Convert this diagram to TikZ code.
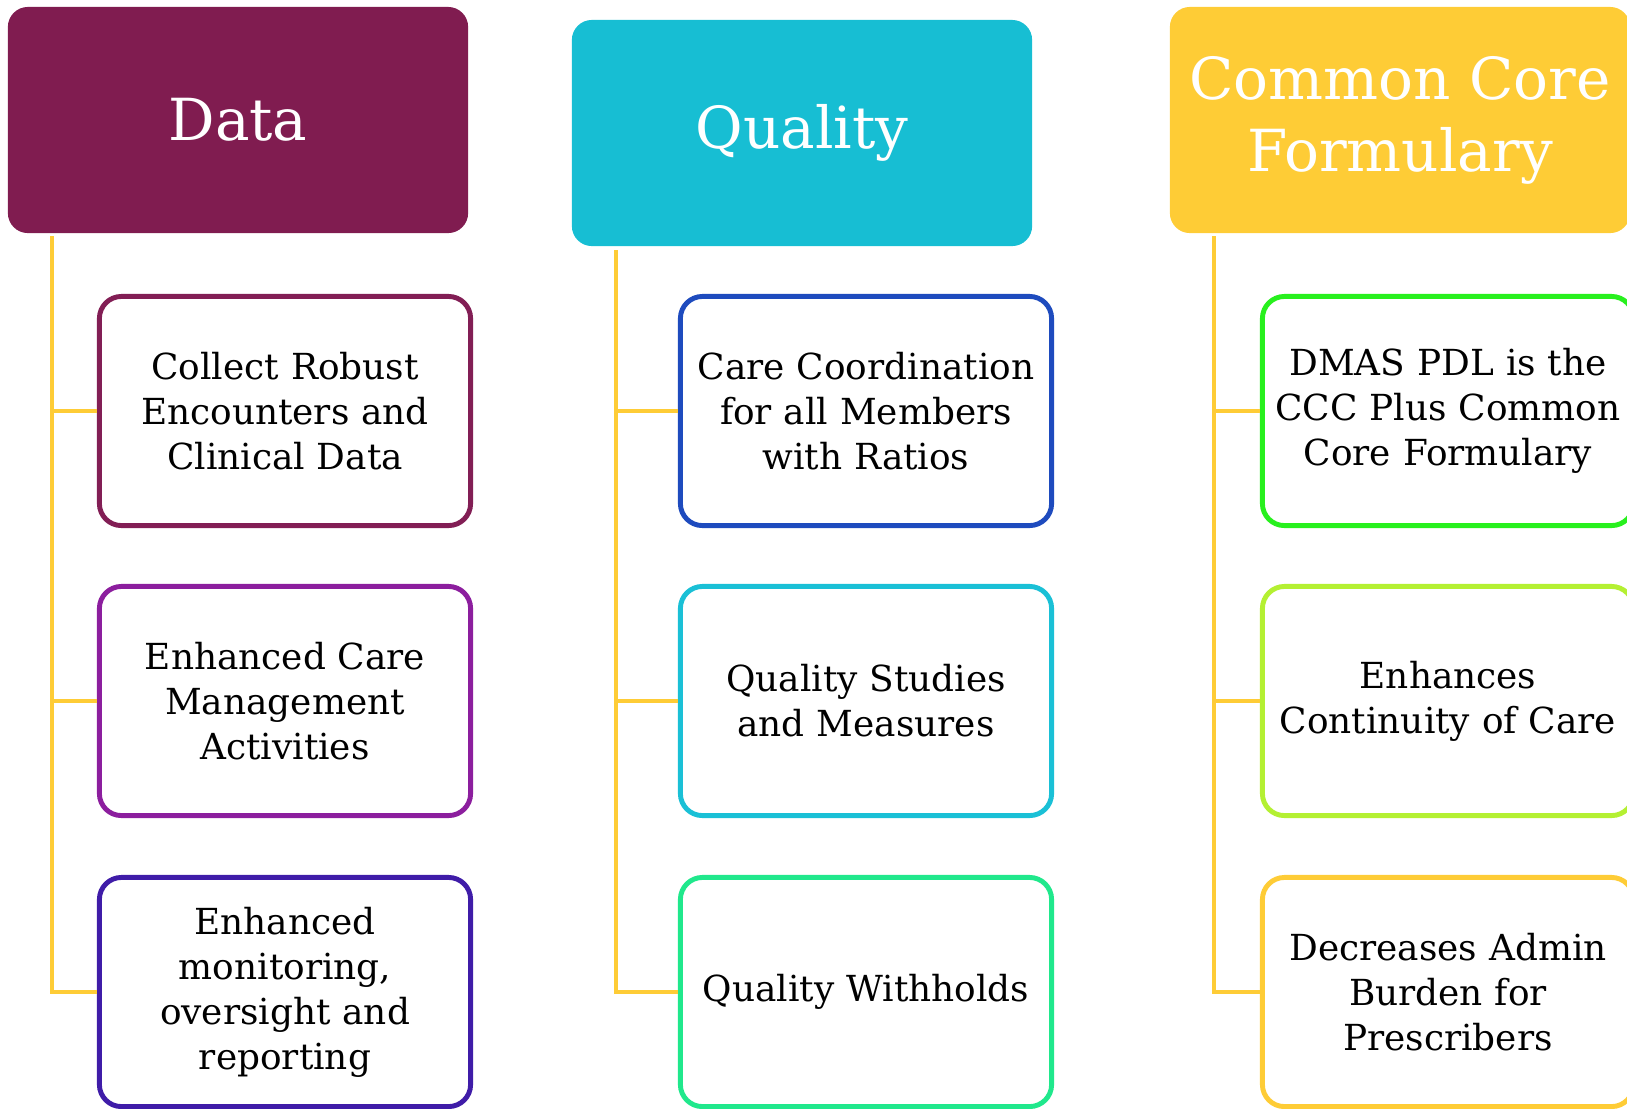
\documentclass[tikz,border=0pt]{standalone}
\usepackage{fontspec}
\setmainfont{DejaVu Serif}
\usepackage{xcolor}
\usepackage{tikz}
\usetikzlibrary{positioning}

\definecolor{datacol}{RGB}{128,28,80}
\definecolor{qualcol}{RGB}{23,190,211}
\definecolor{ccfcol}{RGB}{254,204,54}
\definecolor{dataA}{RGB}{130,30,85}
\definecolor{dataB}{RGB}{140,30,158}
\definecolor{dataC}{RGB}{63,28,168}
\definecolor{qualA}{RGB}{30,75,190}
\definecolor{qualB}{RGB}{26,192,214}
\definecolor{qualC}{RGB}{32,232,140}
\definecolor{ccfA}{RGB}{40,240,30}
\definecolor{ccfB}{RGB}{180,240,50}
\definecolor{ccfC}{RGB}{254,204,54}

\begin{document}
\begin{tikzpicture}[x=0.01cm,y=-0.01cm,
  head/.style={fill=#1,text=white,rounded corners=0.2cm,minimum width=4.6cm,minimum height=2.26cm,
    inner sep=0pt,align=center,font=\fontsize{16.5}{20.5}\selectfont},
  item/.style={draw=#1,line width=1.4pt,fill=white,rounded corners=0.22cm,minimum width=3.71cm,
    minimum height=2.29cm,inner sep=0pt,text width=3.7cm,align=center,font=\fontsize{10.2}{12.8}\selectfont},
  link/.style={draw=ccfcol,line width=1.4pt}]
\useasboundingbox (0,0) rectangle (1627,1108);
\clip (0,0) rectangle (1627,1108);
% column headers
\node[head=datacol](data) at (238,120){Data};
\node[head=qualcol](qual) at (802,133){Quality};
\node[head=ccfcol](ccf) at (1400,120){Common Core\\Formulary};
% data column
\node[item=dataA](d1) at (285,411){Collect Robust\\Encounters and\\Clinical Data};
\node[item=dataB](d2) at (285,701){Enhanced Care\\Management\\Activities};
\node[item=dataC](d3) at (285,992){Enhanced\\monitoring,\\oversight and\\reporting};
% quality column
\node[item=qualA](q1) at (866,411){Care Coordination\\for all Members\\with Ratios};
\node[item=qualB](q2) at (866,701){Quality Studies\\and Measures};
\node[item=qualC](q3) at (866,992){Quality Withholds};
% formulary column
\node[item=ccfA](c1) at (1448,411){DMAS PDL is the\\CCC Plus Common\\Core Formulary};
\node[item=ccfB](c2) at (1448,701){Enhances\\Continuity of Care};
\node[item=ccfC](c3) at (1448,992){Decreases Admin\\Burden for\\Prescribers};
% trunks
\coordinate(dt) at (52,236);
\coordinate(qt) at (616,250);
\coordinate(ct) at (1214,236);
\draw[link](dt)|-(d3.west);
\draw[link](dt)|-(d1.west) (dt)|-(d2.west);
\draw[link](qt)|-(q3.west);
\draw[link](qt)|-(q1.west) (qt)|-(q2.west);
\draw[link](ct)|-(c3.west);
\draw[link](ct)|-(c1.west) (ct)|-(c2.west);
\end{tikzpicture}
\end{document}
